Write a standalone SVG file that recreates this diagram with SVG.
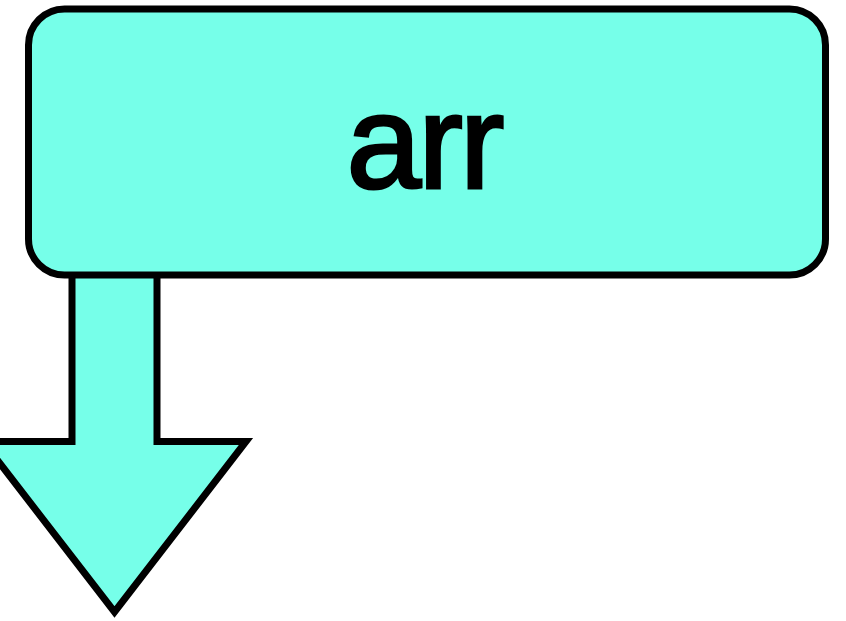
<svg xmlns="http://www.w3.org/2000/svg" width="846" height="621" viewBox="0 0 846 621">
  <style>
    .shape { fill: #76FFE9; stroke: #000; stroke-width: 7; stroke-linejoin: miter; }
    .label { font-family: "Liberation Sans", Arial, sans-serif; font-size: 134px; font-weight: 400; fill: #000; stroke: #000; stroke-width: 3; letter-spacing: -3px; }
  </style>
  <rect width="846" height="621" fill="#fff"/>
  <!-- downward block arrow leaving the box -->
  <g id="connectors">
    <polygon class="shape" points="72,270 157,270 157,441.5 246,441.5 114.5,612 -17,441.5 72,441.5"/>
  </g>
  <!-- the "arr" box -->
  <g id="node-arr">
    <rect class="shape" x="28.5" y="9" width="797" height="266" rx="36" ry="36"/>
    <text class="label" x="424" y="188" text-anchor="middle">arr</text>
  </g>
</svg>
